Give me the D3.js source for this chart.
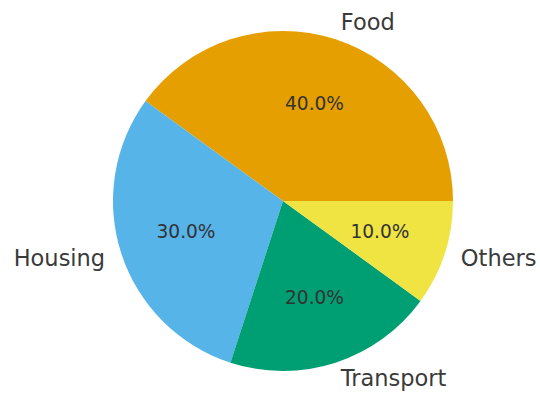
<!DOCTYPE html>
<html>
<head>
<meta charset="utf-8">
<script src="https://cdn.jsdelivr.net/npm/d3@7"></script>
<style>
  html, body { margin: 0; padding: 0; background: #ffffff; }
  svg { display: block; }
</style>
</head>
<body>
<svg id="chart" width="540" height="394"></svg>
<script>
// Monthly spending breakdown
const categories = ["Food", "Housing", "Transport", "Others"];
const shares = [40, 30, 20, 10];
const colors = ["#E69F00", "#56B4E9", "#009E73", "#F0E442"];

const width = 540, height = 394;
const cx = 283, cy = 201, radius = 170;

const svg = d3.select("#chart");
const g = svg.append("g").attr("transform", `translate(${cx},${cy})`);

// Slices run counter-clockwise starting from 3 o'clock
// d3 angles are clockwise from 12 o'clock, so map: a_d3 = PI/2 - theta
const total = d3.sum(shares);
const toRad = d3.scaleLinear().domain([0, total]).range([0, 2 * Math.PI]);
let acc = 0;
const slices = shares.map((v, i) => {
  const t0 = toRad(acc), t1 = toRad(acc + v);
  acc += v;
  return { cat: categories[i], value: v, color: colors[i], t0, t1 };
});

const arc = d3.arc().innerRadius(0).outerRadius(radius);

g.selectAll("path.slice")
  .data(slices)
  .join("path")
  .attr("class", "slice")
  .attr("fill", d => d.color)
  .attr("d", d => arc({ startAngle: Math.PI / 2 - d.t1, endAngle: Math.PI / 2 - d.t0 }));

// Category labels at 1.1 x radius
g.selectAll("text.label")
  .data(slices)
  .join("text")
  .attr("class", "label")
  .each(function (d) {
    const mid = (d.t0 + d.t1) / 2;
    const x = 1.1 * radius * Math.cos(mid);
    const y = -1.1 * radius * Math.sin(mid);
    d3.select(this)
      .attr("x", x)
      .attr("y", y - 1)
      .attr("text-anchor", x > 0 ? "start" : "end");
  })
  .attr("dominant-baseline", "central")
  .attr("font-family", "DejaVu Sans, sans-serif")
  .attr("font-size", 22.5)
  .attr("fill", "#3a3a3a")
  .text(d => d.cat);

// Percentage labels at 0.6 x radius
g.selectAll("text.pct")
  .data(slices)
  .join("text")
  .attr("class", "pct")
  .attr("x", d => 0.6 * radius * Math.cos((d.t0 + d.t1) / 2))
  .attr("y", d => -0.6 * radius * Math.sin((d.t0 + d.t1) / 2) - 1)
  .attr("text-anchor", "middle")
  .attr("dominant-baseline", "central")
  .attr("font-family", "DejaVu Sans, sans-serif")
  .attr("font-size", 18.6)
  .attr("fill", "#333333")
  .text(d => d3.format(".1f")(d.value / total * 100) + "%");
</script>
</body>
</html>
